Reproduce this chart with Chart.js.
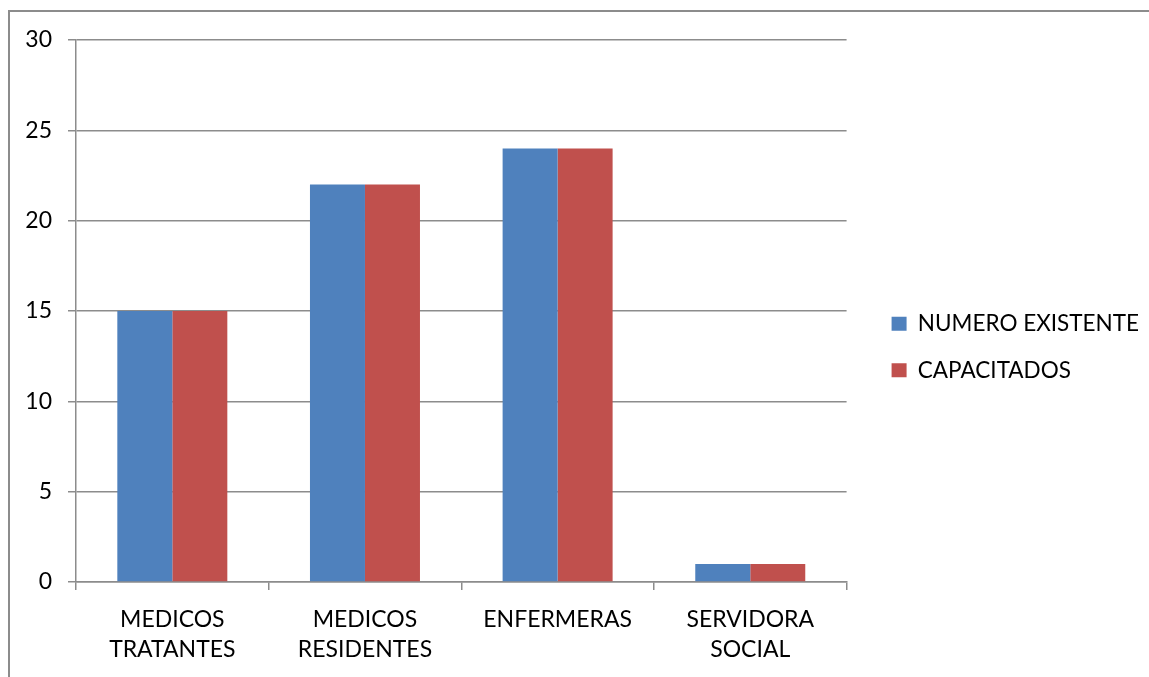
<!DOCTYPE html>
<html>
<head>
<meta charset="utf-8">
<script src="https://cdn.jsdelivr.net/npm/chart.js@4"></script>
<style>
  html, body { margin: 0; padding: 0; background: #fff; }
  #wrap { position: relative; width: 1149px; height: 677px; overflow: hidden; }
  #frame { position: absolute; left: 8px; top: 10px; right: -5px; bottom: -5px;
           border-top: 2px solid #8c8c8c; border-left: 2px solid #8c8c8c; }
  canvas { position: absolute; left: 0; top: 0; }
</style>
</head>
<body>
<div id="wrap">
  <div id="frame"></div>
  <canvas id="personal" width="1149" height="677"></canvas>
</div>
<script>
// categorias del personal
const categorias = [
    ['MEDICOS', 'TRATANTES'],
    ['MEDICOS', 'RESIDENTES'],
    'ENFERMERAS',
    ['SERVIDORA', 'SOCIAL']
];
const numeroExistente = [15, 22, 24, 1];
const capacitados = [15, 22, 24, 1];
const ticksY = [0, 5, 10, 15, 20, 25, 30];

const gris = '#8c8c8c';
const fuente = { family: 'Lato', size: 23 };

// eje vacio, solo ocupa espacio
const ejeVacio = (pos, tam) => ({
    type: 'linear',
    position: pos,
    grid: { display: false, drawTicks: false },
    border: { display: false },
    ticks: { display: false },
    afterFit: s => {
        if (pos === 'top') s.height = tam; else s.width = tam;
    }
});

const data = {
    labels: categorias,
    datasets: [
        { label: 'NUMERO EXISTENTE', data: numeroExistente, backgroundColor: '#4F81BD' },
        { label: 'CAPACITADOS', data: capacitados, backgroundColor: '#C0504D' }
    ]
};

const config = {
    type: 'bar',
    data: data,
    options: {
        responsive: false,
        animation: false,
        datasets: {
            bar: { categoryPercentage: 0.571, barPercentage: 1, borderWidth: 0 }
        },
        layout: { padding: { top: 17, left: 0, right: 0, bottom: 0 } },
        scales: {
            x: {
                grid: { drawOnChartArea: false, drawTicks: true, tickLength: 8, color: gris, lineWidth: 1.5 },
                border: { color: gris, width: 1.5 },
                ticks: { color: '#000', font: { ...fuente, lineHeight: 1.32 }, maxRotation: 0, autoSkip: false, padding: 14 },
                afterFit: s => { s.height = 95; }
            },
            y: {
                min: 0,
                max: 30,
                afterBuildTicks: s => { s.ticks = ticksY.map(v => ({ value: v })); },
                grid: { color: gris, lineWidth: 1.5, tickLength: 8 },
                border: { color: gris, width: 1.5 },
                ticks: { color: '#000', font: fuente, padding: 16 },
                afterFit: s => { s.width = 76; }
            },
            arriba: ejeVacio('top', 23),
            hueco: ejeVacio('right', 21)
        },
        plugins: {
            legend: {
                position: 'right',
                maxWidth: 282,
                labels: { boxWidth: 15, boxHeight: 14, padding: 24, color: '#000', font: { family: 'Lato', size: 22.5 } }
            },
            tooltip: { enabled: false }
        }
    }
};

const ctx = document.getElementById('personal').getContext('2d');
const grafico = new Chart(ctx, config);
</script>
</body>
</html>
